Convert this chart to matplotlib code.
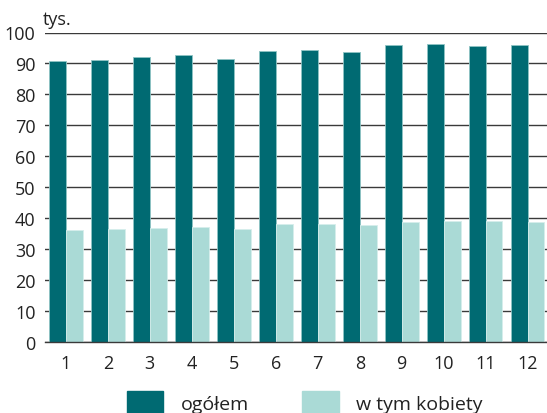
import matplotlib
matplotlib.use('Agg')
import matplotlib.pyplot as plt
import matplotlib.patches as mpatches
import numpy as np

plt.rcParams['font.family'] = ['Open Sans', 'DejaVu Sans']

months = ['1', '2', '3', '4', '5', '6', '7', '8', '9', '10', '11', '12']
ogolem = [90.7, 91.2, 92.0, 92.6, 91.3, 94.1, 94.2, 93.6, 96.0, 96.4, 95.7, 96.1]
kobiety = [36.2, 36.4, 36.8, 37.2, 36.5, 38.1, 38.0, 37.7, 38.8, 39.1, 39.0, 38.9]

dark = '#006a72'
light = '#aadad6'

W, H = 547, 414
fig = plt.figure(figsize=(W / 100, H / 100), dpi=100)
ax = fig.add_axes([45.3 / W, (H - 343) / H, (W - 45.3) / W, (343 - 33.5) / H])

x = np.arange(len(months))
w = 0.4
ax.bar(x - w / 2, ogolem, w, color=dark, edgecolor='#8fc4c4', linewidth=0.6, zorder=3)
ax.bar(x + w / 2, kobiety, w, color=light, edgecolor='#d6eeec', linewidth=0.6, zorder=3)

ax.set_ylim(0, 100)
ax.set_xlim(-0.49, 11.46)
ax.set_yticks(range(0, 101, 10))
ax.set_xticks(x)
ax.set_xticklabels(months)
ax.yaxis.grid(True, color='#3a3a3a', linewidth=1.0, zorder=0)
ax.set_axisbelow(True)
for s in ['top', 'right', 'left']:
    ax.spines[s].set_visible(False)
ax.spines['bottom'].set_color('#3a3a3a')
ax.spines['bottom'].set_linewidth(1.0)
ax.spines['bottom'].set_zorder(4)
ax.tick_params(axis='both', length=0, labelsize=13, colors='#222222')
ax.tick_params(axis='y', pad=7)
ax.tick_params(axis='x', pad=9)

fig.text(43 / W, 1 - 20 / H, 'tys.', fontsize=13, color='#222222', va='center', ha='left')

handles = [mpatches.Patch(color=dark, label='ogółem'),
           mpatches.Patch(color=light, label='w tym kobiety')]
fig.legend(handles=handles, loc='center left', bbox_to_anchor=(109 / W, 1 - 403 / H), ncol=2,
           frameon=False, fontsize=14, handlelength=1.9, handleheight=1.3,
           handletextpad=0.9, columnspacing=2.7, labelcolor='#222222')

fig.savefig('out.png', dpi=100)
